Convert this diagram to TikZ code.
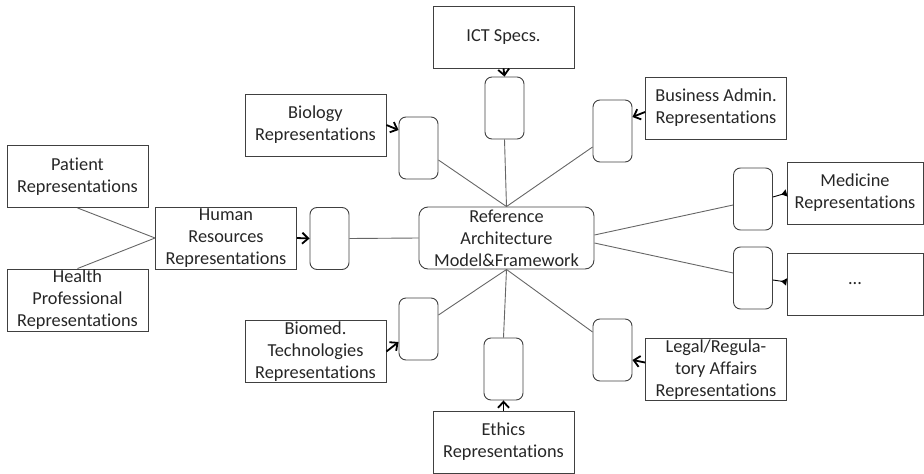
\documentclass[tikz,border=0pt]{standalone}
\usepackage{fontspec}
\setmainfont[Ligatures={NoCommon,NoRequired,NoContextual,NoRare},RawFeature={-liga;-clig;-calt;-dlig}]{Carlito}
\usetikzlibrary{arrows.meta}
\tikzset{>=latex,
  repbox/.style={draw=black!75, line width=0.9pt, text=black!85, align=center,
    minimum width=141pt, minimum height=62pt, inner sep=1pt,
    font=\fontsize{18.3}{22}\selectfont},
  slot/.style={draw=black!75, line width=0.9pt, rounded corners=7pt,
    minimum width=39pt, minimum height=62pt},
  core/.style={repbox, rounded corners=9pt, minimum width=175pt},
  link/.style={draw=black!60, line width=0.9pt},
  feed/.style={black, line width=1.8pt, -{Straight Barb[length=6pt,width=11pt]}},
  feedtri/.style={black, line width=0.9pt, {Latex[reversed,length=6pt,width=8pt]}-}}

\begin{document}
\begin{tikzpicture}[x=1pt, y=-1pt]
\useasboundingbox (0,0) rectangle (924,474);
% hub
\node[core] (ref) at (506.5,238) {Reference\\Architecture\\Model\&Framework};
% slots round the hub
\node[slot] (ictS)    at (504.5,108) {};
\node[slot] (bioS)    at (418.5,148) {};
\node[slot] (busS)    at (612.5,131) {};
\node[slot] (hrS)     at (329.5,238.5) {};
\node[slot] (medS)    at (753,199) {};
\node[slot] (dotsS)   at (753,278) {};
\node[slot] (biomedS) at (418.5,329) {};
\node[slot] (ethS)    at (503.5,369) {};
\node[slot] (legS)    at (612.5,350) {};
% representations
\node[repbox] (ict)    at (503.5,37)  {ICT Specs.};
\node[repbox] (bio)    at (315.5,125) {Biology\\Representations};
\node[repbox] (bus)    at (716,108)   {Business Admin.\\Representations};
\node[repbox] (pat)    at (77.5,176.5) {Patient\\Representations};
\node[repbox] (hea)    at (77.5,300)  {Health\\Professional\\Representations};
\node[repbox] (hr)     at (226,238)   {Human\\Resources\\Representations};
\node[repbox, minimum width=136pt] (med)  at (855,193) {Medicine\\Representations};
\node[repbox, minimum width=136pt] (dots) at (855,284) {...};
\node[repbox] (biomed) at (315.5,351.5) {Biomed.\\Technologies\\Representations};
\node[repbox] (eth)    at (503.5,442) {Ethics\\Representations};
\node[repbox] (leg)    at (716,369.5) {Legal/Regula-\\tory Affairs\\Representations};
% hub links
\path[link]
(ref.north) -- (ictS.south)
(ref.north) -- ([yshift=-12pt]bioS.east)
(ref.north) -- ([yshift=-16pt]busS.west)
(ref.west)  -- (hrS.east)
([yshift=3pt]ref.east)  -- ([yshift=-6pt]medS.west)
([yshift=-5pt]ref.east) -- ([yshift=5pt]dotsS.west)
(ref.south) -- ([yshift=14pt]biomedS.east)
(ref.south) -- (ethS.north)
(ref.south) -- ([yshift=18pt]legS.west)
(pat.south) -- (hr.west)
(hea.north) -- (hr.west);
% feeds into the slots
\draw[feed] (ict.south) -- (ictS.north);
\draw[feed] (bio.east) -- ([yshift=18pt]bioS.west);
\draw[feed] ([yshift=-4pt]bus.west) -- ([yshift=14pt]busS.east);
\draw[feed] (hr.east) -- (hrS.west);
\draw[feed] (biomed.east) -- ([yshift=-13pt]biomedS.west);
\draw[feed] (eth.north) -- (ethS.south);
\draw[feed] ([yshift=7pt]leg.west) -- ([yshift=-10pt]legS.east);
\draw[feedtri] (med.west) -- ([yshift=2pt]medS.east);
\draw[feedtri] ([yshift=2pt]dots.west) -- ([yshift=-2pt]dotsS.east);
\end{tikzpicture}
\end{document}
